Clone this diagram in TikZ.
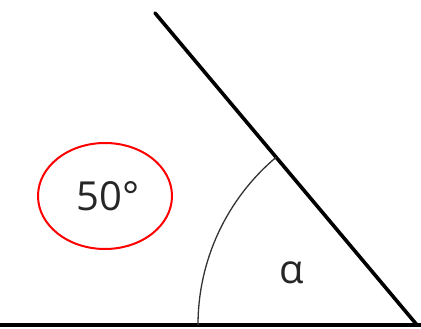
\documentclass[tikz,border=0pt]{standalone}
\usepackage{fontspec}
\setmainfont{Open Sans}
\usetikzlibrary{shapes.geometric}
\begin{document}
\begin{tikzpicture}[x=1pt,y=1pt,
    anglearm/.style={draw=black,line width=3.6pt},
    anglearc/.style={draw=black!80,line width=1.3pt},
    anglelabel/.style={font=\fontsize{40}{40}\selectfont,text=black!85,inner sep=0pt},
    guessring/.style={ellipse,draw=red,line width=2pt,minimum width=134pt,minimum height=106pt}
]
\useasboundingbox (0,0) rectangle (421,329);
\coordinate (vertex) at (417,4);
\coordinate (left) at (0,4);
\coordinate (right) at (424,4);
\coordinate (top) at (155,316);
\draw[anglearm] (left) -- (right);
\draw[anglearm,line cap=round] (vertex) -- (top);
\draw[anglearc] ([shift={(180:219)}]vertex) arc[start angle=180,end angle=130,radius=219];
\node[anglelabel] (alpha) at (292,56) {α};
\node[guessring] (ring) at (105,133) {};
\node[anglelabel] (value) at (108,133) {50°};
\end{tikzpicture}
\end{document}
